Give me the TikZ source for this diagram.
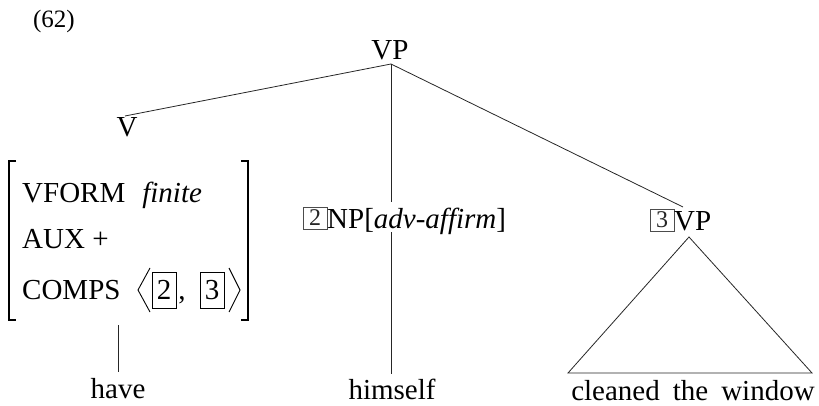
\documentclass[tikz,border=0pt]{standalone}
\usepackage{fontspec}
\setmainfont{Liberation Serif}
\begin{document}
\begin{tikzpicture}[x=1pt,y=1pt,
  lbl/.style={inner sep=0pt, anchor=base, font=\fontsize{29}{29}\selectfont},
  lblw/.style={lbl, anchor=base west},
  tag/.style={draw=black!70, line width=0.5pt, inner sep=0pt, minimum width=24pt, minimum height=22pt, font=\fontsize{24}{24}\selectfont, text=black!85},
  bigtag/.style={draw=black, line width=0.8pt, inner sep=0pt, minimum width=24pt, minimum height=36pt, font=\fontsize{29}{29}\selectfont},
  edge/.style={draw=black!85, line width=0.8pt},
  brk/.style={draw=black, line width=1.4pt},
  ang/.style={draw=black, line width=0.9pt}]
\useasboundingbox (0,0) rectangle (819,-406);
\node[lbl, font=\fontsize{25}{25}\selectfont] (ex) at (54,-28) {(62)};
\node[lbl] (vp) at (390,-60) {VP};
\node[lbl] (v) at (127,-137) {V};
% AVM
\node[lblw] (r1) at (22,-203) {VFORM\hspace{17pt}\textit{finite}};
\node[lblw] (r2) at (22,-248) {AUX +};
\node[lblw] (r3) at (22,-299) {COMPS};
\node[bigtag] (b2) at (164,-290) {2};
\node[lbl] (comma) at (182,-299) {,};
\node[bigtag] (b3) at (212,-290) {3};
\coordinate (la1) at (150,-268); \coordinate (la2) at (138,-290); \coordinate (la3) at (150,-312);
\coordinate (ra1) at (229,-268); \coordinate (ra2) at (240,-290); \coordinate (ra3) at (229,-312);
\draw[ang] (la1) -- (la2) -- (la3);
\draw[ang] (ra1) -- (ra2) -- (ra3);
\coordinate (lb1) at (16,-161); \coordinate (lb2) at (9,-161); \coordinate (lb3) at (9,-320); \coordinate (lb4) at (16,-320);
\coordinate (rb1) at (241,-161); \coordinate (rb2) at (248,-161); \coordinate (rb3) at (248,-320); \coordinate (rb4) at (241,-320);
\draw[brk] (lb1) -- (lb2) -- (lb3) -- (lb4);
\draw[brk] (rb1) -- (rb2) -- (rb3) -- (rb4);
% NP label
\node[tag] (t2) at (315,-218) {2};
\node[lblw] (np) at (327,-229) {NP[\textit{adv-affirm}]};
% VP label
\node[tag] (t3) at (662,-220) {3};
\node[lblw] (vp3) at (674,-230) {VP};
% terminals
\node[lbl] (have) at (118,-398) {have};
\node[lbl] (himself) at (392,-399) {himself};
\node[lbl] (cw) at (693,-400) {cleaned\hspace{13pt}the\hspace{13pt}window};
% connectors
\coordinate (apex) at (391,-64);
\coordinate (vtop) at (125,-116);
\coordinate (nptop) at (391,-202);
\coordinate (npbot) at (391,-232);
\coordinate (himtop) at (391,-374);
\coordinate (vp3top) at (683,-207);
\coordinate (avmbot) at (118,-325);
\coordinate (havetop) at (118,-372);
\coordinate (tri1) at (689,-237);
\coordinate (tri2) at (568,-373);
\coordinate (tri3) at (812,-373);
\draw[edge] (apex) -- (vtop);
\draw[edge] (apex) -- (nptop);
\draw[edge] (npbot) -- (himtop);
\draw[edge] (apex) -- (vp3top);
\draw[edge] (avmbot) -- (havetop);
\draw[edge] (tri1) -- (tri2) -- (tri3) -- cycle;
\end{tikzpicture}
\end{document}
